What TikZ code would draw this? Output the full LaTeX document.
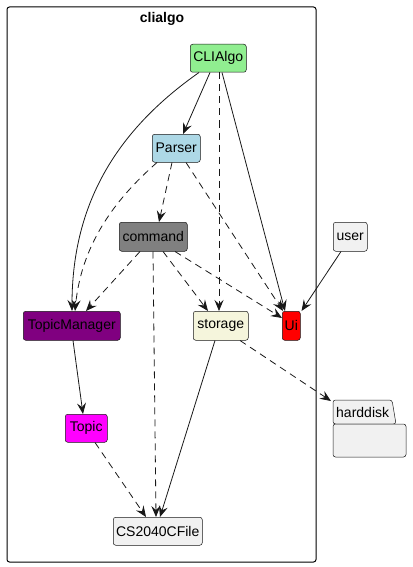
\documentclass[tikz,border=0pt]{standalone}
\usepackage{fontspec}
\setmainfont{Liberation Sans}
\usetikzlibrary{arrows.meta}
\definecolor{ink}{HTML}{181818}
\definecolor{paleg}{HTML}{F1F1F1}
\definecolor{clgreen}{HTML}{90EE90}
\definecolor{clblue}{HTML}{ADD8E6}
\definecolor{clgrey}{HTML}{808080}
\definecolor{clpurple}{HTML}{800080}
\definecolor{clbeige}{HTML}{F5F5DC}
\definecolor{clred}{HTML}{FF0000}
\definecolor{clmagenta}{HTML}{FF00FF}
\tikzset{
  comp/.style={draw=ink, line width=0.5pt, rounded corners=2.5pt, anchor=north west,
    inner sep=0pt, align=center, font=\fontsize{14}{16}\selectfont, text=black},
  dep/.style={draw=ink, line width=0.8pt, -{Stealth[length=11pt,width=9pt,inset=4pt]}},
  use/.style={dep, dash pattern=on 7pt off 5pt},
}
\begin{document}
\begin{tikzpicture}[x=1pt,y=-1pt]
\useasboundingbox (0,0) rectangle (412,567);
% package frame
\draw[black, line width=1pt, rounded corners=2.5pt] (7,7) rectangle (316,562);
\node[font=\bfseries\fontsize{14}{16}\selectfont] (title) at (162,19) {clialgo};

% components
\node[comp, fill=clgreen,   minimum width=56pt, minimum height=28pt] (cli)     at (190,44)  {CLIAlgo};
\node[comp, fill=clblue,    minimum width=48pt, minimum height=28pt] (parser)  at (152,134) {Parser};
\node[comp, fill=clgrey,    minimum width=68pt, minimum height=29pt] (cmd)     at (119,222) {command};
\node[comp, fill=clpurple,  minimum width=97pt, minimum height=29pt] (tm)      at (23,311)  {TopicManager};
\node[comp, fill=clbeige,   minimum width=55pt, minimum height=29pt] (storage) at (193,311) {storage};
\node[comp, fill=clred,     minimum width=18pt, minimum height=29pt] (ui)      at (282,311) {Ui};
\node[comp, fill=paleg,     minimum width=34pt, minimum height=29pt] (user)    at (333,222) {user};
\node[comp, fill=clmagenta, minimum width=42pt, minimum height=28pt] (topic)   at (65,414)  {Topic};
\node[comp, fill=paleg,     minimum width=89pt, minimum height=28pt] (file)    at (113,517) {CS2040CFile};

% harddisk folder
\draw[ink, line width=0.5pt, fill=paleg, rounded corners=2.5pt]
  (333,424) -- (333,400) -- (392,400) -- (396,424) -- cycle;
\draw[ink, line width=0.5pt, fill=paleg, rounded corners=2.5pt]
  (333,424) rectangle (406,457);
\node[anchor=west, inner sep=0pt, font=\fontsize{14}{16}\selectfont] (hd) at (336,412) {harddisk};
\coordinate (hdtab) at (331,401);

% dependencies
\draw[dep] ([xshift=20pt]cli.south west) -- ([xshift=31pt]parser.north west);
\draw[dep] ([xshift=9pt]cli.south west) .. controls (120,128) and (72,200) .. ([xshift=49pt]tm.north west);
\draw[use] ([xshift=29pt]cli.south west) -- ([xshift=26pt]storage.north west);
\draw[dep] ([xshift=32pt]cli.south west) -- ([xshift=3pt]ui.north west);

\draw[use] ([xshift=5pt]parser.south west) .. controls (120,195) and (82,240) .. ([xshift=52pt]tm.north west);
\draw[use] ([xshift=20pt]parser.south west) -- ([xshift=40pt]cmd.north west);
\draw[use] ([xshift=34pt]parser.south west) -- ([xshift=1pt]ui.north west);

\draw[use] ([xshift=21pt]cmd.south west) -- ([xshift=63pt]tm.north west);
\draw[use] ([xshift=34pt]cmd.south west) -- ([xshift=43pt]file.north west);
\draw[use] ([xshift=44pt]cmd.south west) -- ([xshift=15pt]storage.north west);
\draw[use] ([xshift=56pt]cmd.south west) -- ([yshift=-7pt]ui.north west);

\draw[dep] ([xshift=22pt]storage.south west) -- ([xshift=47pt]file.north west);
\draw[use] ([xshift=47pt]storage.south west) -- (hdtab);

\draw[dep] ([xshift=50pt]tm.south west) -- ([xshift=18pt]topic.north west);
\draw[use] ([xshift=30pt]topic.south west) -- ([xshift=33pt]file.north west);

\draw[dep] ([xshift=8pt]user.south west) -- ([xshift=1pt]ui.north east);
\end{tikzpicture}
\end{document}
